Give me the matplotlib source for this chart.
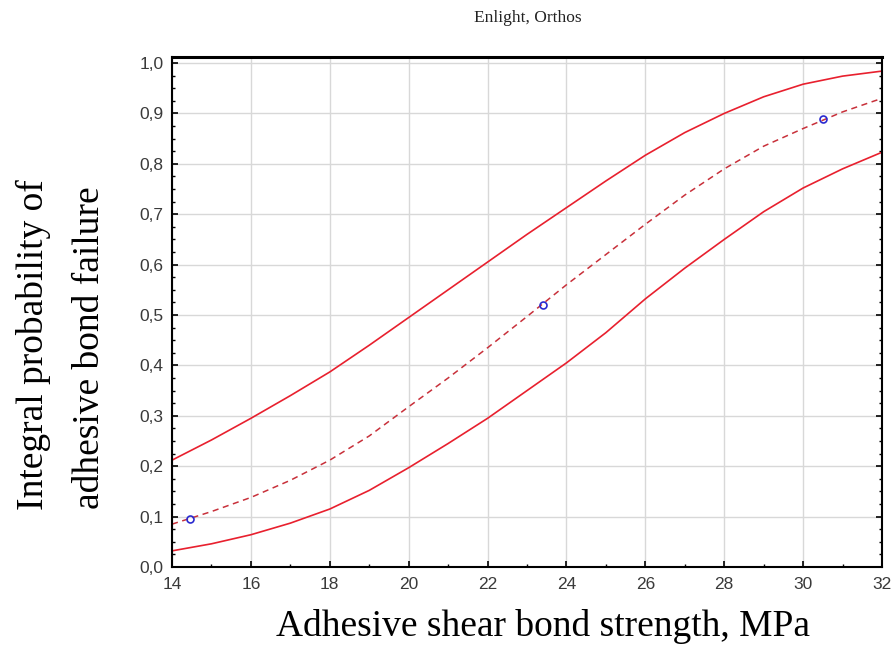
import matplotlib.pyplot as plt
import numpy as np
from matplotlib.ticker import MultipleLocator, FuncFormatter

# shear bond strength, MPa
strength = [14, 15, 16, 17, 18, 19, 20, 21, 22, 23, 24, 25, 26, 27, 28, 29, 30, 31, 32]

# fitted probability curve (dashed) and its confidence bounds
prob_fit = [0.085, 0.110, 0.138, 0.172, 0.212, 0.260, 0.318, 0.375, 0.435, 0.497,
            0.560, 0.620, 0.680, 0.738, 0.790, 0.835, 0.870, 0.903, 0.930]
prob_upper = [0.212, 0.252, 0.295, 0.340, 0.387, 0.440, 0.495, 0.550, 0.605, 0.660,
              0.713, 0.766, 0.817, 0.862, 0.900, 0.933, 0.958, 0.974, 0.984]
prob_lower = [0.032, 0.046, 0.064, 0.087, 0.115, 0.152, 0.197, 0.245, 0.295, 0.350,
              0.405, 0.465, 0.532, 0.593, 0.650, 0.705, 0.752, 0.790, 0.823]

# observed points
obs_x = [14.45, 23.4, 30.5]
obs_y = [0.095, 0.52, 0.889]

fig = plt.figure(figsize=(8.94, 6.64), dpi=100)
ax = fig.add_axes([0.1924, 0.1461, 0.7942, 0.7681])

red = '#e8202e'
ax.plot(strength, prob_upper, color=red, lw=1.2)
ax.plot(strength, prob_lower, color=red, lw=1.2)
ax.plot(strength, prob_fit, color='#c8303a', lw=1.1, dashes=(4, 3))
ax.plot(obs_x, obs_y, 'o', mfc='none', mec='#2a2ad0', ms=5, mew=1.2)

ax.set_xlim(14, 32)
ax.set_ylim(0, 1.012)
ax.xaxis.set_major_locator(MultipleLocator(2))
ax.xaxis.set_minor_locator(MultipleLocator(1))
ax.yaxis.set_major_locator(MultipleLocator(0.1))
ax.yaxis.set_minor_locator(MultipleLocator(0.025))
ax.yaxis.set_major_formatter(FuncFormatter(lambda v, p: ('%.1f' % v).replace('.', ',')))

ax.grid(True, which='major', color='#d8d8d8', lw=1)
ax.set_axisbelow(True)
ax.tick_params(which='both', direction='in', top=False, right=True,
               labelsize=12.5, labelcolor='#3a3a3a', colors='black')
ax.tick_params(which='major', length=4, width=1.2)
ax.tick_params(which='minor', length=2, width=1)
ax.tick_params(axis='x', pad=7)
ax.tick_params(axis='y', pad=6)
for name in ['left', 'bottom', 'right']:
    ax.spines[name].set_linewidth(1.5)
ax.spines['top'].set_linewidth(2.2)
for lab in ax.get_xticklabels() + ax.get_yticklabels():
    lab.set_family('Liberation Sans')

fig.text(528 / 894, 1 - 18 / 664, 'Enlight, Orthos', ha='center', va='center',
         family='Liberation Serif', fontsize=12.5, color='#222222')
fig.text(33 / 894, 1 - 345 / 664, 'Integral probability of', rotation=90,
         ha='center', va='center', family='Liberation Serif', fontsize=27)
fig.text(90 / 894, 1 - 348 / 664, 'adhesive bond failure', rotation=90,
         ha='center', va='center', family='Liberation Serif', fontsize=27)
fig.text(543 / 894, 1 - 626 / 664, 'Adhesive shear bond strength, MPa',
         ha='center', va='center', family='Liberation Serif', fontsize=27)

fig.savefig('out.png', dpi=100)
